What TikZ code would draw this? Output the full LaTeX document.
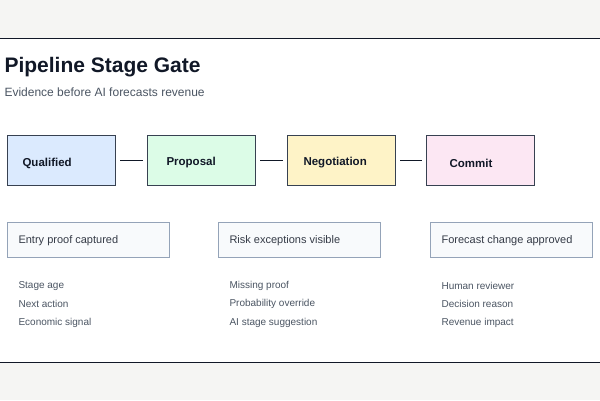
\documentclass[tikz,border=0pt]{standalone}
\usepackage{fontspec}
\setmainfont{Liberation Sans}
\definecolor{bg}{HTML}{F5F5F3}
\definecolor{ink}{HTML}{111827}
\definecolor{sub}{HTML}{4B5563}
\definecolor{edge}{HTML}{374151}
\definecolor{ev}{HTML}{94A3B8}
\definecolor{evf}{HTML}{F8FAFC}
\definecolor{f1}{HTML}{DBEAFE}
\definecolor{f2}{HTML}{DCFCE7}
\definecolor{f3}{HTML}{FEF3C7}
\definecolor{f4}{HTML}{FCE7F3}
\begin{document}
\begin{tikzpicture}[x=1pt,y=-1pt,
 stage/.style={draw=edge,line width=1pt,minimum width=108pt,minimum height=50pt,anchor=north west,inner sep=0pt},
 stl/.style={font=\bfseries\fontsize{11.5}{13}\selectfont,text=ink,anchor=west},
 evbox/.style={draw=ev,fill=evf,line width=0.8pt,minimum width=162pt,minimum height=35pt,anchor=north west,inner sep=0pt},
 evt/.style={font=\fontsize{11}{12}\selectfont,text=ink!85,anchor=west},
 item/.style={font=\fontsize{10}{11}\selectfont,text=sub,anchor=west},
 link/.style={draw=ink,line width=1.5pt}]
\useasboundingbox (0,0) rectangle (600,400);
\fill[bg] (0,0) rectangle (600,400);
\fill[white] (0,38) rectangle (600,362);
\draw[ink,line width=1pt] (0,38) -- (600,38) (0,362) -- (600,362);
\node[anchor=west,font=\bfseries\fontsize{21}{24}\selectfont,text=ink] (title) at (1,67) {Pipeline Stage Gate};
\node[anchor=west,font=\fontsize{12}{14}\selectfont,text=sub] (subt) at (1,92) {Evidence before AI forecasts revenue};
\node[stage,fill=f1] (s1) at (7,135) {};
\node[stage,fill=f2] (s2) at (147,135) {};
\node[stage,fill=f3] (s3) at (287,135) {};
\node[stage,fill=f4] (s4) at (426,135) {};
\node[stl] at (19,163) {Qualified};
\node[stl] at (163,163) {Proposal};
\node[stl] at (300,163) {Negotiation};
\node[stl] at (446,163) {Commit};
\draw[link] ([xshift=4pt]s1.east) -- ([xshift=-4pt]s2.west);
\draw[link] ([xshift=4pt]s2.east) -- ([xshift=-4pt]s3.west);
\draw[link] ([xshift=4pt]s3.east) -- ([xshift=-4pt]s4.west);
\node[evbox] (e1) at (7,222) {};
\node[evbox] (e2) at (218,222) {};
\node[evbox] (e3) at (430,222) {};
\node[evt] at (15,241) {Entry proof captured};
\node[evt] at (226,241) {Risk exceptions visible};
\node[evt] at (438,241) {Forecast change approved};
\foreach \x/\a/\b/\c in {15/Stage age/Next action/Economic signal,226/Missing proof/Probability override/AI stage suggestion,438/Human reviewer/Decision reason/Revenue impact}{
 \node[item] at (\x,286) {\a};
 \node[item] at (\x,304) {\b};
 \node[item] at (\x,323) {\c};
}
\end{tikzpicture}
\end{document}
